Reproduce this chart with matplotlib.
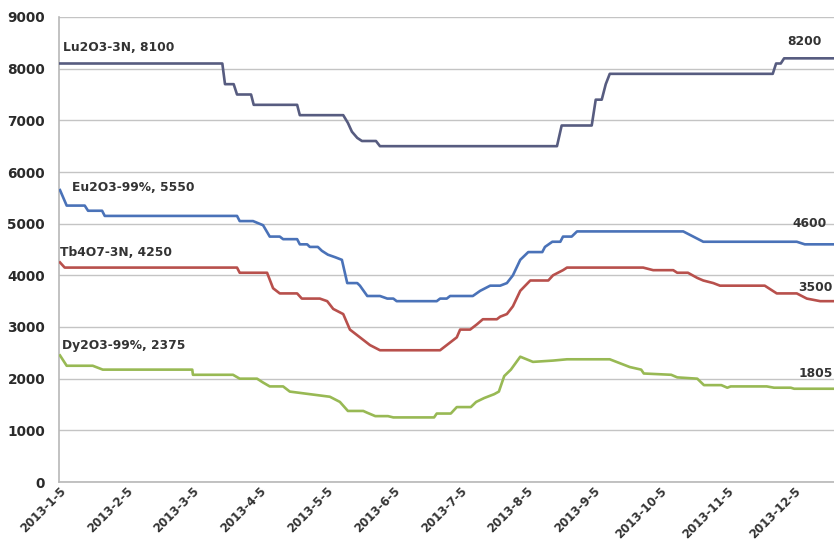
import matplotlib.pyplot as plt
from matplotlib.transforms import ScaledTranslation

# x positions are in months counted from 2013-1-5 (category axis, one slot per month)
months = ['2013-1-5', '2013-2-5', '2013-3-5', '2013-4-5', '2013-5-5', '2013-6-5',
          '2013-7-5', '2013-8-5', '2013-9-5', '2013-10-5', '2013-11-5', '2013-12-5']

lu_t = [0.00, 2.43, 2.47, 2.60, 2.65, 2.86, 2.90, 3.55, 3.59, 4.24, 4.31, 4.37, 4.45, 4.52,
        4.73, 4.79, 7.44, 7.51, 7.96, 8.02, 8.11, 8.17, 8.23, 10.67, 10.72, 10.79, 10.84, 11.59]
lu_v = [8100, 8100, 7700, 7700, 7500, 7500, 7300, 7300, 7100, 7100, 6950, 6780, 6660, 6600,
        6600, 6500, 6500, 6900, 6900, 7400, 7400, 7700, 7900, 7900, 8100, 8100, 8200, 8200]

eu_t = [0.00, 0.10, 0.37, 0.42, 0.63, 0.67, 2.65, 2.69, 2.89, 3.04, 3.14, 3.29, 3.34, 3.55,
        3.59, 3.70, 3.74, 3.86, 3.92, 4.01, 4.12, 4.22, 4.30, 4.45, 4.49, 4.60, 4.79, 4.90,
        4.99, 5.04, 5.64, 5.69, 5.79, 5.84, 6.18, 6.29, 6.44, 6.59, 6.69, 6.78, 6.89, 7.01,
        7.22, 7.26, 7.37, 7.49, 7.53, 7.66, 7.74, 9.33, 9.48, 9.63, 11.03, 11.15, 11.59]
eu_v = [5650, 5350, 5350, 5250, 5250, 5150, 5150, 5050, 5050, 4970, 4750, 4750, 4700, 4700,
        4600, 4600, 4550, 4550, 4475, 4400, 4350, 4300, 3850, 3850, 3800, 3600, 3600, 3550,
        3550, 3500, 3500, 3550, 3550, 3600, 3600, 3700, 3800, 3800, 3850, 4000, 4300, 4450,
        4450, 4550, 4650, 4650, 4750, 4750, 4850, 4850, 4750, 4650, 4650, 4600, 4600]

tb_t = [0.00, 0.07, 2.65, 2.69, 3.10, 3.19, 3.29, 3.55, 3.62, 3.89, 4.00, 4.09, 4.24, 4.34,
        4.49, 4.64, 4.79, 5.69, 5.79, 5.94, 5.99, 6.14, 6.24, 6.33, 6.54, 6.59, 6.69, 6.78,
        6.89, 7.04, 7.31, 7.38, 7.53, 7.59, 8.73, 8.88, 9.18, 9.24, 9.40, 9.54, 9.63, 9.78,
        9.88, 10.55, 10.73, 11.03, 11.18, 11.38, 11.59]
tb_v = [4250, 4150, 4150, 4050, 4050, 3750, 3650, 3650, 3550, 3550, 3500, 3350, 3250, 2950,
        2800, 2650, 2550, 2550, 2650, 2800, 2950, 2950, 3050, 3150, 3150, 3200, 3250, 3400,
        3700, 3900, 3900, 4000, 4100, 4150, 4150, 4100, 4100, 4050, 4050, 3950, 3900, 3850,
        3800, 3800, 3650, 3650, 3550, 3500, 3500]

dy_t = [0.00, 0.10, 0.49, 0.64, 1.98, 1.99, 2.59, 2.69, 2.95, 3.04, 3.14, 3.34, 3.44, 3.59,
        3.74, 3.89, 4.04, 4.19, 4.31, 4.54, 4.60, 4.72, 4.91, 4.99, 5.60, 5.64, 5.85, 5.94,
        6.15, 6.23, 6.35, 6.50, 6.57, 6.65, 6.75, 6.89, 7.08, 7.38, 7.59, 8.23, 8.38, 8.53,
        8.70, 8.74, 9.15, 9.24, 9.54, 9.64, 9.90, 9.99, 10.04, 10.58, 10.69, 10.94, 10.99, 11.59]
dy_v = [2450, 2250, 2250, 2175, 2175, 2075, 2075, 2000, 2000, 1925, 1850, 1850, 1750, 1725,
        1700, 1675, 1650, 1550, 1375, 1375, 1340, 1275, 1275, 1250, 1250, 1325, 1325, 1450,
        1450, 1550, 1625, 1700, 1750, 2050, 2175, 2425, 2325, 2350, 2375, 2375, 2300, 2225,
        2175, 2100, 2075, 2025, 2000, 1875, 1875, 1825, 1850, 1850, 1825, 1825, 1805, 1805]

series = [
    (lu_t, lu_v, '#575c80', 'Lu2O3-3N, 8100', (0.05, 8414), '8200', (10.88, 8530)),
    (eu_t, eu_v, '#4a72b8', 'Eu2O3-99%, 5550', (0.18, 5706), '4600', (10.96, 5010)),
    (tb_t, tb_v, '#b8504c', 'Tb4O7-3N, 4250', (0.00, 4449), '3500', (11.05, 3772)),
    (dy_t, dy_v, '#98b954', 'Dy2O3-99%, 2375', (0.03, 2650), '1805', (11.05, 2108)),
]

fig = plt.figure(figsize=(8.34, 5.44), dpi=100)
ax = fig.add_axes([59 / 834, 1 - 482 / 544, 775 / 834, (482 - 17) / 544])

for t, v, c, start_lbl, start_pos, end_lbl, end_pos in series:
    ax.plot(t, v, color=c, lw=1.9, solid_joinstyle='round', zorder=3)
    ax.text(start_pos[0], start_pos[1], start_lbl, fontsize=8.8, fontweight='bold',
            color='#333333', ha='left', va='center')
    ax.text(end_pos[0], end_pos[1], end_lbl, fontsize=8.8, fontweight='bold',
            color='#333333', ha='left', va='center', clip_on=False)

ax.set_xlim(-0.015, 11.587)
ax.set_ylim(0, 9000)
ax.set_yticks(range(0, 9001, 1000))
ax.set_xticks(range(len(months)))
ax.set_xticklabels(months, rotation=45, ha='right', va='center', rotation_mode='anchor',
                   fontsize=8.5, fontweight='bold', color='#333333')
ax.tick_params(axis='y', labelsize=9.8, labelcolor='#2a2a2a', length=0, pad=10)
ax.tick_params(axis='x', length=0, pad=5)
for lbl in ax.get_yticklabels():
    lbl.set_fontweight('bold')
# nudge the slanted date labels so their ends sit just right of the category
shift = ScaledTranslation(4 / 100, 0, fig.dpi_scale_trans)
for lbl in ax.get_xticklabels():
    lbl.set_transform(lbl.get_transform() + shift)

ax.grid(axis='y', color='#c4c4c4', lw=1)
ax.set_axisbelow(True)
for side in ('top', 'right'):
    ax.spines[side].set_visible(False)
for side in ('left', 'bottom'):
    ax.spines[side].set_color('#b8b8b8')
    ax.spines[side].set_linewidth(1.2)

fig.savefig('out.png', dpi=100)
